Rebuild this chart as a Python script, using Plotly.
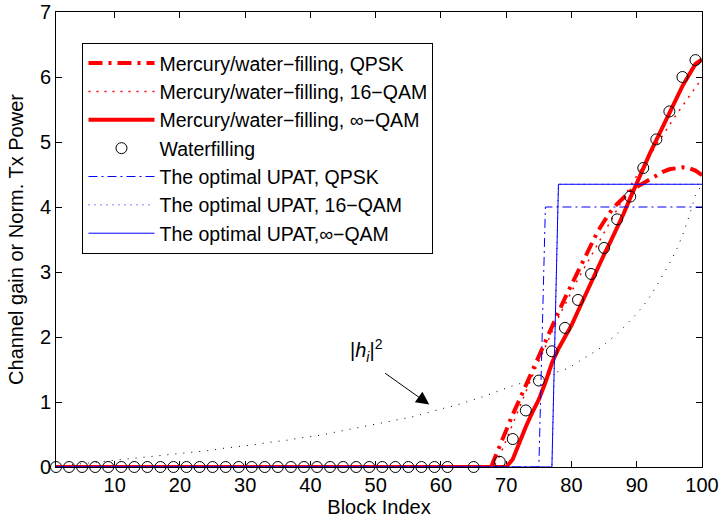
import plotly.graph_objects as go

# ---------------- data ----------------
block_index = list(range(1, 101))

channel_gain = [
    0.01, 0.02, 0.03, 0.04, 0.05, 0.06, 0.07, 0.08, 0.09, 0.10,
    0.11, 0.12, 0.13, 0.14, 0.15, 0.16, 0.17, 0.18, 0.19, 0.21,
    0.22, 0.23, 0.24, 0.25, 0.26, 0.28, 0.29, 0.30, 0.31, 0.33,
    0.34, 0.35, 0.37, 0.38, 0.39, 0.41, 0.42, 0.44, 0.45, 0.47,
    0.48, 0.50, 0.52, 0.53, 0.55, 0.57, 0.59, 0.61, 0.63, 0.65,
    0.67, 0.69, 0.71, 0.73, 0.76, 0.78, 0.81, 0.84, 0.87, 0.90,
    0.92, 0.94, 0.97, 1.00, 1.03, 1.06, 1.10, 1.14, 1.18, 1.21,
    1.25, 1.28, 1.31, 1.34, 1.37, 1.40, 1.43, 1.46, 1.50, 1.55,
    1.62, 1.68, 1.74, 1.80, 1.88, 1.96, 2.05, 2.15, 2.25, 2.36,
    2.48, 2.62, 2.78, 2.95, 3.13, 3.32, 3.56, 3.85, 4.18, 4.35,
]

mwf_qpsk_x = [1, 67.7, 68, 69, 70, 71, 72, 73, 74, 75, 76, 77, 78, 79, 80, 81, 82, 83, 84,
              85, 86, 87, 88, 89, 90, 91, 92, 93, 94, 95, 96, 97, 98, 99, 100]
mwf_qpsk_y = [0, 0, 0.08, 0.33, 0.57, 0.81, 1.03, 1.26, 1.49, 1.72, 1.94, 2.16, 2.38, 2.60,
              2.81, 3.02, 3.23, 3.44, 3.62, 3.78, 3.93, 4.05, 4.15, 4.24, 4.31, 4.37, 4.43,
              4.49, 4.54, 4.58, 4.60, 4.61, 4.60, 4.56, 4.49]

mwf_16qam_x = [1, 68, 69, 70, 71, 72, 73, 74, 75, 76, 77, 78, 79, 80, 81, 82, 83, 84, 85,
               86, 87, 88, 89, 90, 91, 92, 93, 94, 95, 96, 97, 98, 99, 100]
mwf_16qam_y = [0, 0, 0.17, 0.42, 0.67, 0.92, 1.16, 1.40, 1.63, 1.86, 2.08, 2.30, 2.50, 2.70,
               2.89, 3.07, 3.25, 3.43, 3.60, 3.79, 3.97, 4.15, 4.32, 4.48, 4.64, 4.80, 4.96,
               5.11, 5.26, 5.41, 5.56, 5.70, 5.84, 5.98]

mwf_inf_x = [1, 70, 71, 72, 73, 74, 75, 76, 77, 78, 79, 80, 81, 82, 83, 84, 85, 86, 87,
             88, 89, 90, 91, 92, 93, 94, 95, 96, 97, 98, 99, 100]
mwf_inf_y = [0, 0, 0.12, 0.38, 0.62, 0.84, 1.04, 1.30, 1.60, 1.82, 2.00, 2.18, 2.40, 2.62,
             2.85, 3.06, 3.27, 3.47, 3.67, 3.90, 4.14, 4.38, 4.60, 4.82, 5.03, 5.24, 5.45,
             5.66, 5.86, 6.03, 6.20, 6.27]

wf_x = [1, 3, 5, 7, 9, 11, 13, 15, 17, 19, 21, 23, 25, 27, 29, 31, 33, 35, 37, 39, 41,
        43, 45, 47, 49, 51, 53, 55, 57, 59, 61, 65, 69, 71, 73, 75, 77, 79, 81, 83, 85,
        87, 89, 91, 93, 95, 97, 99]
wf_y = [0] * 32 + [0.08, 0.43, 0.87, 1.33, 1.78, 2.14, 2.57, 2.97, 3.37, 3.81, 4.16,
                   4.60, 5.04, 5.47, 6.00, 6.26]

upat_qpsk_x = [1, 75, 76, 100]
upat_qpsk_y = [0, 0, 4.00, 4.00]
upat_16qam_x = [1, 77, 78, 100]
upat_16qam_y = [0, 0, 4.35, 4.35]
upat_inf_x = [1, 77, 78, 100]
upat_inf_y = [0, 0, 4.35, 4.35]

x_ticks = [10, 20, 30, 40, 50, 60, 70, 80, 90, 100]
y_ticks = [0, 1, 2, 3, 4, 5, 6, 7]

# ---------------- figure ----------------
FONT = "Liberation Sans, Arial, sans-serif"
FS = 20
fig = go.Figure()

fig.add_trace(go.Scatter(x=block_index, y=channel_gain, mode="lines",
                         line=dict(color="black", width=1, dash="1px,7px"),
                         showlegend=False, hoverinfo="skip"))

fig.add_trace(go.Scatter(x=mwf_qpsk_x, y=mwf_qpsk_y, mode="lines",
                         name="Mercury/water\u2212filling, QPSK", legendgroup="a",
                         line=dict(color="#FF0000", width=4, dash="14px,6px,3px,6px"),
                         cliponaxis=False))
fig.add_trace(go.Scatter(x=mwf_16qam_x, y=mwf_16qam_y, mode="lines",
                         name="Mercury/water\u2212filling, 16\u2212QAM", legendgroup="b",
                         line=dict(color="#FF0000", width=1.5, dash="2px,6px"),
                         cliponaxis=False))
fig.add_trace(go.Scatter(x=mwf_inf_x, y=mwf_inf_y, mode="lines",
                         name="Mercury/water\u2212filling, \u221e\u2212QAM", legendgroup="c",
                         line=dict(color="#FF0000", width=4), cliponaxis=False))
fig.add_trace(go.Scatter(x=wf_x, y=wf_y, mode="markers", name="Waterfilling",
                         legendgroup="d",
                         marker=dict(symbol="circle-open", size=11,
                                     color="black", line=dict(width=1, color="black")),
                         cliponaxis=False))
fig.add_trace(go.Scatter(x=upat_qpsk_x, y=upat_qpsk_y, mode="lines",
                         name="The optimal UPAT, QPSK", legendgroup="e",
                         line=dict(color="#0000FF", width=1, dash="9px,4px,2px,4px"),
                         cliponaxis=False))
fig.add_trace(go.Scatter(x=upat_16qam_x, y=upat_16qam_y, mode="lines",
                         name="The optimal UPAT, 16\u2212QAM", legendgroup="f",
                         line=dict(color="#0000FF", width=1, dash="1px,5px"),
                         cliponaxis=False))
fig.add_trace(go.Scatter(x=upat_inf_x, y=upat_inf_y, mode="lines",
                         name="The optimal UPAT,\u221e\u2212QAM", legendgroup="g",
                         line=dict(color="#0000FF", width=1), cliponaxis=False))

# annotation |h_i|^2 with arrow
fig.add_annotation(x=58.2, y=0.96, ax=51.2, ay=1.46, xref="x", yref="y",
                   axref="x", ayref="y", text="", showarrow=True,
                   arrowhead=2, arrowsize=2.6, arrowwidth=1, arrowcolor="black")
fig.add_annotation(x=48.6, y=1.8, xref="x", yref="y", showarrow=False,
                   text="|<i>h<sub>i</sub></i>|<sup>2</sup>",
                   font=dict(family=FONT, size=FS, color="black"))

axis_common = dict(showline=True, linecolor="black", linewidth=1, mirror="ticks",
                   ticks="inside", ticklen=6, tickcolor="black", showgrid=False,
                   zeroline=False, layer="below traces", automargin=False,
                   tickfont=dict(family=FONT, size=FS, color="black"))

fig.update_layout(
    width=719, height=519,
    margin=dict(l=56, r=17, t=12, b=52),
    paper_bgcolor="white", plot_bgcolor="white",
    font=dict(family=FONT, size=FS, color="black"),
    xaxis=dict(range=[1, 100], tickvals=x_ticks,
               title=dict(text="Block Index", standoff=2,
                          font=dict(family=FONT, size=FS)), **axis_common),
    yaxis=dict(range=[0, 7], tickvals=y_ticks,
               title=dict(text="Channel gain or Norm. Tx Power", standoff=10,
                          font=dict(family=FONT, size=FS)), **axis_common),
    legend=dict(x=0.041, y=0.932, xanchor="left", yanchor="top",
                bgcolor="white", bordercolor="black", borderwidth=1,
                font=dict(family=FONT, size=19.5, color="black"),
                traceorder="normal", itemwidth=66),
    showlegend=True,
)

fig.write_html("out.html")
